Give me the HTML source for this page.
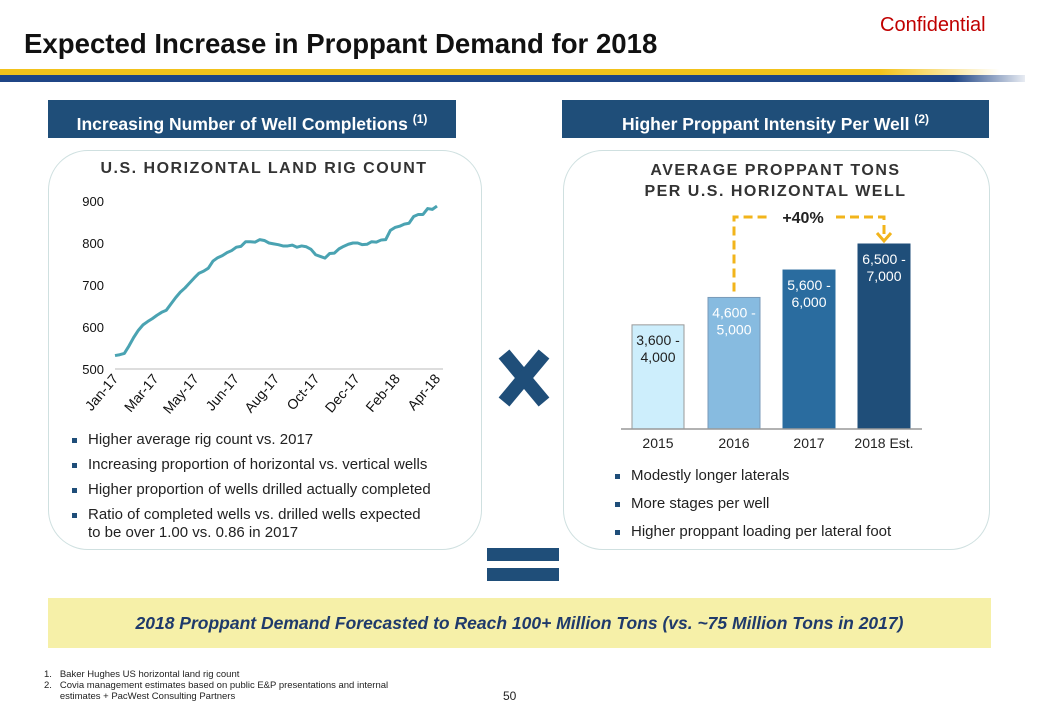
<!DOCTYPE html>
<html><head><meta charset="utf-8"><style>
body{margin:0;width:1040px;height:720px;background:#fff;font-family:"Liberation Sans",sans-serif;position:relative;overflow:hidden}
.a{position:absolute}
.hdr{background:#1f4e79;color:#fff;font-weight:bold;font-size:17.5px;text-align:center;line-height:38px;height:38px}
.panel{border:1px solid #cfe0e0;border-radius:40px}
ul{margin:0;padding:0;list-style:none}
li{position:relative;padding-left:18px;font-size:15px;color:#222;margin-bottom:7px;line-height:18px}
li:before{content:"";position:absolute;left:2px;top:7px;width:5px;height:5px;background:#1f4e79}
</style></head><body>
<div class="a" style="left:880px;top:14px;color:#c00000;font-size:20px">Confidential</div>
<div class="a" style="left:24px;top:28px;font-size:27.6px;font-weight:bold;color:#111">Expected Increase in Proppant Demand for 2018</div>
<div class="a" style="left:0;top:69px;width:1000px;height:6px;background:linear-gradient(90deg,#f2c21b 88%,rgba(242,194,27,0))"></div>
<div class="a" style="left:0;top:75px;width:1025px;height:7px;background:linear-gradient(90deg,#1f4586 93%,rgba(31,69,134,0.1))"></div>

<div class="a hdr" style="left:48px;top:100px;width:408px">Increasing Number of Well Completions <sup style="font-size:12px">(1)</sup></div>
<div class="a hdr" style="left:562px;top:100px;width:427px">Higher Proppant Intensity Per Well <sup style="font-size:12px">(2)</sup></div>

<div class="a panel" style="left:48px;top:150px;width:432px;height:398px"></div>
<div class="a panel" style="left:563px;top:150px;width:425px;height:398px"></div>

<div class="a" style="left:48px;top:160px;width:432px;text-align:center;font-size:16px;font-weight:bold;letter-spacing:1.5px;color:#333">U.S. HORIZONTAL LAND RIG COUNT</div>
<div class="a" style="left:563px;top:160px;width:425px;text-align:center;font-size:16px;font-weight:bold;letter-spacing:1.5px;color:#333;line-height:21px">AVERAGE PROPPANT TONS<br>PER U.S. HORIZONTAL WELL</div>

<svg class="a" id="rig" style="left:0;top:0" width="520" height="440"></svg>
<svg class="a" id="bars" style="left:0;top:0" width="1040" height="460"></svg>

<ul class="a" style="left:70px;top:431px;width:385px">
<li>Higher average rig count vs. 2017</li>
<li>Increasing proportion of horizontal vs. vertical wells</li>
<li>Higher proportion of wells drilled actually completed</li>
<li>Ratio of completed wells vs. drilled wells expected<br>to be over 1.00 vs. 0.86 in 2017</li>
</ul>
<ul class="a" style="left:613px;top:467px;width:360px">
<li style="margin-bottom:10px">Modestly longer laterals</li>
<li style="margin-bottom:10px">More stages per well</li>
<li>Higher proppant loading per lateral foot</li>
</ul>

<svg class="a" style="left:494px;top:348px" width="60" height="60"><g stroke="#1f4e79" stroke-width="14" stroke-linecap="butt"><line x1="10" y1="6" x2="50" y2="54"/><line x1="50" y1="6" x2="10" y2="54"/></g></svg>
<div class="a" style="left:487px;top:548px;width:72px;height:13px;background:#1f4e79"></div>
<div class="a" style="left:487px;top:568px;width:72px;height:13px;background:#1f4e79"></div>

<div class="a" style="left:48px;top:598px;width:943px;height:50px;background:#f6f0a8;color:#1f3a6b;font-size:17.5px;font-weight:bold;font-style:italic;text-align:center;line-height:50px">2018 Proppant Demand Forecasted to Reach 100+ Million Tons (vs. ~75 Million Tons in 2017)</div>

<div class="a" style="left:44px;top:669px;font-size:9.5px;color:#222;line-height:11px">
<div>1.&nbsp;&nbsp;&nbsp;Baker Hughes US horizontal land rig count</div>
<div>2.&nbsp;&nbsp;&nbsp;Covia management estimates based on public E&amp;P presentations and internal<br>&nbsp;&nbsp;&nbsp;&nbsp;&nbsp;&nbsp;estimates + PacWest Consulting Partners</div>
</div>
<div class="a" style="left:503px;top:689px;font-size:12px;color:#222">50</div>

<script>
const rigValues=[532,534,537,555,575,592,605,613,620,628,635,640,655,670,683,693,705,717,728,733,740,757,765,770,777,782,790,792,803,803,802,808,806,800,798,796,793,793,795,790,793,791,785,772,768,764,775,776,786,792,797,800,800,796,797,803,802,807,808,830,837,840,845,847,863,868,868,882,880,888];
const rigTicks=[500,600,700,800,900];
const rigMonths=["Jan-17","Mar-17","May-17","Jun-17","Aug-17","Oct-17","Dec-17","Feb-18","Apr-18"];
const barCats=["2015","2016","2017","2018 Est."];
const barValues=[3800,4800,5800,6750];
const barLabels=["3,600 -|4,000","4,600 -|5,000","5,600 -|6,000","6,500 -|7,000"];
const NS="http://www.w3.org/2000/svg";
function mk(p,t,a){const e=document.createElementNS(NS,t);for(const k in a)e.setAttribute(k,a[k]);p.appendChild(e);return e;}
const rig=document.getElementById('rig');
const x0=115,x1=437,yb=369,yt=201;
const ry=v=>yb-(v-500)/400*(yb-yt);
const rx=i=>x0+i/(rigValues.length-1)*(x1-x0);
mk(rig,'line',{x1:x0,y1:yb,x2:443,y2:yb,stroke:'#bbb','stroke-width':1});
rigTicks.forEach(t=>{const e=mk(rig,'text',{x:104,y:ry(t)+5,'text-anchor':'end','font-size':13,fill:'#111'});e.textContent=t;

});
rigMonths.forEach((m,i)=>{const x=x0+i/(rigMonths.length-1)*(x1-x0)+4;const y=yb+10;
const e=mk(rig,'text',{x:x,y:y,'text-anchor':'end','font-size':14,fill:'#111',transform:`rotate(-50 ${x} ${y})`});e.textContent=m;

});
const ln=mk(rig,'polyline',{points:rigValues.map((v,i)=>rx(i)+','+ry(v)).join(' '),fill:'none',stroke:'#4aa3b2','stroke-width':3,'stroke-linejoin':'round'});


const bs=document.getElementById('bars');
const base=429,scale=185/6750,bw=52,cx=[658,734,809,884];
const fills=['#cdeefc','#87bbe0','#2a6c9f','#1f4e79'],tcol=['#222','#fff','#fff','#fff'],strokes=['#999','#7a9ab8','#2a6c9f','#1f4e79'];
barCats.forEach((c,i)=>{const h=barValues[i]*scale;
const r=mk(bs,'rect',{x:cx[i]-bw/2,y:base-h,width:bw,height:h,fill:fills[i],stroke:strokes[i]});


barLabels[i].split('|').forEach((s,j)=>{const t=mk(bs,'text',{x:cx[i],y:base-h+20+j*17,'text-anchor':'middle','font-size':14,fill:tcol[i]});t.textContent=s;

});
const t=mk(bs,'text',{x:cx[i],y:448,'text-anchor':'middle','font-size':14,fill:'#222'});t.textContent=c;

});
mk(bs,'line',{x1:621,y1:base,x2:922,y2:base,stroke:'#999','stroke-width':1.5});
const h16=base-barValues[1]*scale-6;
const d=mk(bs,'path',{d:`M734 ${h16} V217 H770 M836 217 H884 V236`,fill:'none',stroke:'#f2b41b','stroke-width':3,'stroke-dasharray':'9 5'});


const ar=mk(bs,'path',{d:'M877 233 L884 241 L891 233',fill:'none',stroke:'#f2b41b','stroke-width':3});


const pt=mk(bs,'text',{x:803,y:223,'text-anchor':'middle','font-size':16,'font-weight':'bold',fill:'#222'});pt.textContent='+40%';


</script>
</body></html>
